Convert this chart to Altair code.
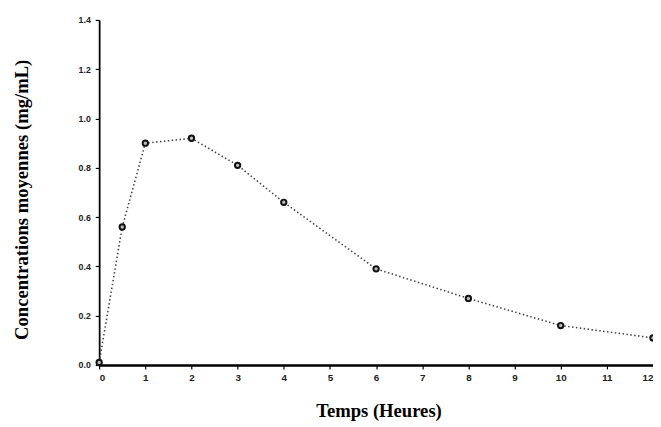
import altair as alt
import pandas as pd

temps = [0, 0.5, 1, 2, 3, 4, 6, 8, 10, 12]
concentrations = [0.01, 0.56, 0.90, 0.92, 0.81, 0.66, 0.39, 0.27, 0.16, 0.11]
x_ticks = list(range(0, 13))
y_ticks = [0.0, 0.2, 0.4, 0.6, 0.8, 1.0, 1.2, 1.4]

df = pd.DataFrame({"t": temps, "c": concentrations})

x = alt.X("t:Q", scale=alt.Scale(domain=[0, 12], nice=False),
          axis=alt.Axis(values=x_ticks, title="Temps (Heures)", format="d",
                        titleFont="Liberation Serif", titleFontSize=19, titleFontWeight="bold",
                        titleColor="#000", titleX=285, titleY=47, titleBaseline="middle",
                        labelFont="Liberation Sans", labelFontSize=10, labelFontWeight="bold",
                        labelColor="#222", labelPadding=4,
                        domainColor="#000", domainWidth=2.5, tickColor="#000", tickSize=4,
                        tickWidth=1.2, grid=False))
y = alt.Y("c:Q", scale=alt.Scale(domain=[0, 1.4], nice=False),
          axis=alt.Axis(values=y_ticks, title="Concentrations moyennes (mg/mL)", format=".1f",
                        titleFont="Liberation Serif", titleFontSize=19, titleFontWeight="bold",
                        titleColor="#000", titleX=-79, titleY=183, titleAngle=-90,
                        titleAlign="center", titleBaseline="middle",
                        labelFont="Liberation Sans", labelFontSize=9, labelFontWeight="bold",
                        labelColor="#222", labelPadding=5,
                        domainColor="#000", domainWidth=1.8, tickColor="#000", tickSize=4,
                        tickWidth=1.2, grid=False))

line = alt.Chart(df).mark_line(color="#444", strokeWidth=1.6, strokeDash=[1.5, 2.5]).encode(x=x, y=y)
pts = alt.Chart(df).mark_point(shape="circle", size=30, filled=False, color="#111",
                               strokeWidth=2, fill="#bbb", fillOpacity=1).encode(x=x, y=y)

chart = (line + pts).properties(
    width=565, height=352,
    autosize=alt.AutoSizeParams(type="none"),
    padding={"left": 93, "top": 8, "right": 0, "bottom": 55},
    background="white",
).configure_view(stroke=None)

chart.save("out.html", embed_options={"renderer": "svg", "actions": False})
